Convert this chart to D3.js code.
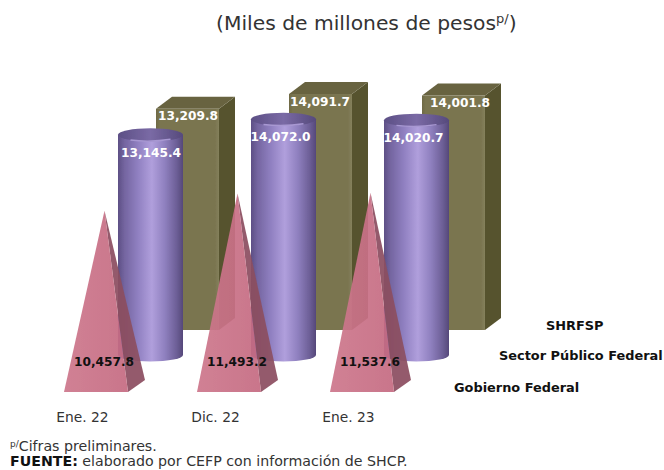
<!DOCTYPE html>
<html><head><meta charset="utf-8">
<style>html,body{margin:0;padding:0;background:#fff}svg{display:block}text{font-family:"DejaVu Sans",sans-serif}</style>
<script src="https://cdn.jsdelivr.net/npm/d3@7"></script></head><body>
<div id="c"></div>
<script>
const categories = ["Ene. 22","Dic. 22","Ene. 23"];
const seriesNames = ["SHRFSP","Sector Público Federal","Gobierno Federal"];
const shrfsp = [13209.8,14091.7,14001.8];
const sectorPublico = [13145.4,14072.0,14020.7];
const gobierno = [10457.8,11493.2,11537.6];
const fmt = d3.format(",.1f");
const W=664,H=470;
const svg=d3.select("#c").append("svg").attr("width",W).attr("height",H);
const defs=svg.append("defs");
function grad(id,stops){const g=defs.append("linearGradient").attr("id",id).attr("x1",0).attr("x2",1).attr("y1",0).attr("y2",0);
 stops.forEach(s=>g.append("stop").attr("offset",s[0]).attr("stop-color",s[1]));}
grad("cyl",[[0,"#5d4f85"],[.1,"#7465a0"],[.3,"#8f7fc0"],[.52,"#b09fdc"],[.72,"#8f80bf"],[.9,"#6d5f97"],[1,"#55487a"]]);
grad("cylTop",[[0,"#5c4f85"],[.5,"#7a6aa5"],[1,"#564a7c"]]);
grad("oliveF",[[0,"#6f6a44"],[.06,"#7a7550"],[.94,"#7a7550"],[1,"#85815c"]]);
grad("pyrF",[[0,"#cd778c"],[1,"#c56b82"]]);
defs.append("filter").attr("id","soft").append("feGaussianBlur").attr("stdDeviation",.45);

const x=d3.scalePoint().domain(categories).range([0,266]);   // group origin, 133 px apart
const h=d3.scaleLinear().domain([0,15000]).range([0,251.2]);
const g=svg.append("g").attr("filter","url(#soft)");

// Olive boxes (back row)
const bx=156,bw=63,by=330,dx=16,dy=12;
categories.forEach((c,i)=>{
 const l=bx+x(c),r=l+bw,t=by-h(shrfsp[i]);
 g.append("path").attr("d",`M${r},${t}L${r+dx},${t-dy}V${by-dy}L${r},${by}Z`).attr("fill","#57532f");
 g.append("path").attr("d",`M${l},${t}L${l+dx},${t-dy}H${r+dx}L${r},${t}Z`).attr("fill","#67633f");
 g.append("rect").attr("x",l).attr("y",t).attr("width",bw).attr("height",by-t).attr("fill","url(#oliveF)");
});
// Purple cylinders (middle row)
const cx0=150.5,crx=32.5,cry=6.5,cy0=355;
categories.forEach((c,i)=>{
 const m=cx0+x(c),t=cy0-h(sectorPublico[i]);
 g.append("path").attr("d",`M${m-crx},${t}V${cy0}A${crx},${cry} 0 0 0 ${m+crx},${cy0}V${t}Z`).attr("fill","url(#cyl)");
 g.append("ellipse").attr("cx",m).attr("cy",t).attr("rx",crx).attr("ry",cry).attr("fill","url(#cylTop)");
 g.append("path").attr("d",`M${m-20},${t+5.2}Q${m},${t+7.6} ${m+20},${t+4.4}`).attr("fill","none").attr("stroke","#a898d2").attr("stroke-width",1.4);
});
// Pink pyramids (front row) — translucent
const pl=64,pw=64,py=392,pdx=17,pdy=12;
categories.forEach((c,i)=>{
 const l=pl+x(c),r=l+pw,ax=l+(pw+pdx)/2,ay=(py-pdy/2)-h(gobierno[i]);
 g.append("path").attr("d",`M${r},${py}L${r+pdx},${py-pdy}L${ax},${ay}Z`).attr("fill","#8c4f60").attr("fill-opacity",.93);
 g.append("path").attr("d",`M${l},${py}H${r}L${ax},${ay}Z`).attr("fill","url(#pyrF)").attr("fill-opacity",.93);
});

function label(txt,cxp,y,o={}){
 return svg.append("text").text(txt).attr("x",cxp).attr("y",y).attr("text-anchor",o.anchor||"middle")
 .attr("font-size",o.size||13).attr("font-weight",o.weight||400).attr("fill",o.fill||"#222");
}
categories.forEach((c,i)=>{
 const boxNudge=i===2?6:i===1?-1:0, cylNudge=i===0?0:-3.5;
 label(fmt(shrfsp[i]),188+boxNudge+x(c),by-h(shrfsp[i])+11.5,{size:12.2,weight:700,fill:"#fff"});
 label(fmt(sectorPublico[i]),151+cylNudge+x(c),cy0-h(sectorPublico[i])+22,{size:12.2,weight:700,fill:"#fff"});
 label(fmt(gobierno[i]),104+x(c),366,{size:12.2,weight:700,fill:"#111"});
 label(c,82.5+x(c),422,{size:13.8,fill:"#333"});
});
// Series names
const legendX=[546,499,454],legendY=[330,360,392];
seriesNames.forEach((n,i)=>label(n,legendX[i],legendY[i],{anchor:"start",size:12.9,weight:700,fill:"#111"}));
// Title
const title=svg.append("text").attr("x",216).attr("y",30).attr("font-size",20.3).attr("fill","#333");
title.append("tspan").text("(Miles de millones de pesos");
title.append("tspan").text("p/").attr("font-size",13).attr("dy",-7);
title.append("tspan").text(")").attr("dy",7);
// Notes
const n1=svg.append("text").attr("x",10).attr("y",451).attr("font-size",14.2).attr("fill","#333");
n1.append("tspan").text("p/").attr("font-size",9).attr("dy",-4);
n1.append("tspan").text("Cifras preliminares.").attr("dy",4);
const n2=svg.append("text").attr("x",10).attr("y",466).attr("font-size",14.2).attr("fill","#333");
n2.append("tspan").text("FUENTE:").attr("font-weight",700).attr("fill","#111");
n2.append("tspan").text(" elaborado por CEFP con información de SHCP.");
</script></body></html>
